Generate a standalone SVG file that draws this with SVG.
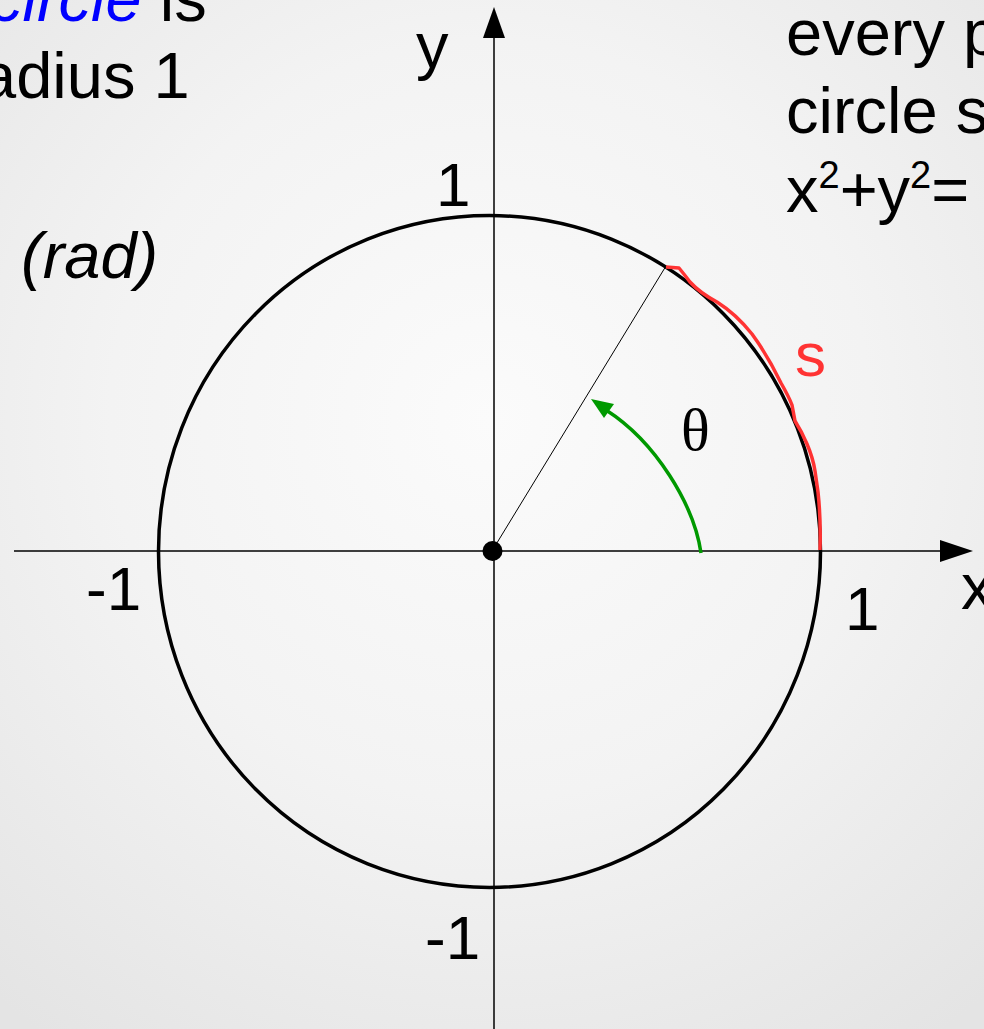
<svg xmlns="http://www.w3.org/2000/svg" width="984" height="1029" viewBox="0 0 984 1029">
  <defs>
    <radialGradient id="bg" cx="490" cy="420" r="760" gradientUnits="userSpaceOnUse">
      <stop offset="0" stop-color="#fbfbfb"/>
      <stop offset="0.5" stop-color="#f3f3f3"/>
      <stop offset="1" stop-color="#e4e4e4"/>
    </radialGradient>
    <style>
      .t { font-family: "Liberation Sans", Arial, sans-serif; font-size: 65px; fill: #000; }
      .lbl { font-family: "Liberation Sans", Arial, sans-serif; font-size: 62px; fill: #000; }
      .ax { stroke: #000; stroke-width: 1.5; fill: none; }
    </style>
  </defs>
  <rect x="0" y="0" width="984" height="1029" fill="url(#bg)"/>

  <g id="connectors">
    <line class="ax" x1="14" y1="551" x2="945" y2="551"/>
    <polygon points="973,551 940,540 940,562" fill="#000"/>
    <line class="ax" x1="494" y1="1029" x2="494" y2="34"/>
    <polygon points="494,7 483,38 505,38" fill="#000"/>
    <line x1="492" y1="551" x2="666" y2="266" stroke="#000" stroke-width="1"/>
  </g>

  <g id="circle">
    <ellipse cx="489.5" cy="551.5" rx="331" ry="336" fill="none" stroke="#000" stroke-width="3.5"/>
  </g>

  <g id="arc-s">
    <path d="M666,267 L679,268 Q684,274 690,282 Q700,293 717,302 Q736,314 752,334 Q768,356 781,383 Q789,397 792,405 L795,421 Q802,432 807,444 Q813,458 815,471 L818,492 Q821,520 820,550" fill="none" stroke="#ff3333" stroke-width="3.5" stroke-linejoin="round"/>
    <text x="795" y="376" font-family="Liberation Sans, Arial, sans-serif" font-size="62" fill="#ff3333">s</text>
  </g>

  <g id="angle">
    <path d="M701,553 C 694,505 656,442 606,410" fill="none" stroke="#009900" stroke-width="3.5"/>
    <polygon points="591,399 614,404 604,418" fill="#009900"/>
    <text x="681" y="450" font-family="Liberation Serif, 'Times New Roman', serif" font-size="60" fill="#000">θ</text>
  </g>

  <g id="center">
    <circle cx="492.5" cy="551" r="10" fill="#000"/>
  </g>

  <g id="labels">
    <text class="lbl" x="436" y="206">1</text>
    <text class="lbl" x="86" y="610">-1</text>
    <text class="lbl" x="845" y="630">1</text>
    <text class="lbl" x="425" y="959">-1</text>
    <text class="t" x="416" y="68">y</text>
    <text class="t" x="961" y="609">x</text>
  </g>

  <g id="text-left">
    <text class="t" x="-10" y="21"><tspan fill="#0000ff" font-style="italic">circle</tspan> is</text>
    <text class="t" x="-20" y="98">adius 1</text>
    <text class="t" x="21" y="278" font-style="italic">(rad)</text>
  </g>

  <g id="text-right">
    <text class="t" x="786" y="55">every p</text>
    <text class="t" x="786" y="133">circle s</text>
    <text class="t" x="786" y="212">x<tspan font-size="38" dy="-24">2</tspan><tspan dy="24">+y</tspan><tspan font-size="38" dy="-24">2</tspan><tspan dy="24">=</tspan></text>
  </g>
</svg>
